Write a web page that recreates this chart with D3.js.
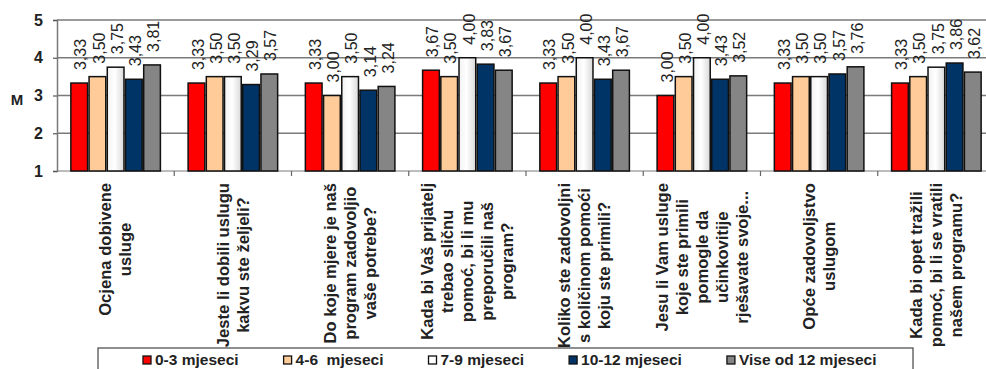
<!DOCTYPE html>
<html>
<head>
<meta charset="utf-8">
<script src="https://cdn.jsdelivr.net/npm/d3@7"></script>
<style>
  html, body { margin: 0; padding: 0; background: #fff; }
  svg { display: block; font-family: "Liberation Sans", Arial, sans-serif; }
</style>
</head>
<body>
<svg id="chart" width="986" height="369"></svg>
<script>
// ---- data ----
const categories = [
  "Ocjena dobivene|usluge",
  "Jeste li dobili uslugu|kakvu ste željeli?",
  "Do koje mjere je naš|program zadovoljio|vaše potrebe?",
  "Kada bi Vaš prijatelj|trebao sličnu|pomoć, bi li mu|preporučili naš|program?",
  "Koliko ste zadovoljni|s količinom pomoći|koju ste primili?",
  "Jesu li Vam usluge|koje ste primili|pomogle da|učinkovitije|rješavate svoje...",
  "Opće zadovoljstvo|uslugom",
  "Kada bi opet tražili|pomoć, bi li se vratili|našem programu?"
];
const seriesNames = ["0-3 mjeseci", "4-6  mjeseci", "7-9 mjeseci", "10-12 mjeseci", "Vise od 12 mjeseci"];
const s0_3   = [3.33, 3.33, 3.33, 3.67, 3.33, 3.00, 3.33, 3.33];
const s4_6   = [3.50, 3.50, 3.00, 3.50, 3.50, 3.50, 3.50, 3.50];
const s7_9   = [3.75, 3.50, 3.50, 4.00, 4.00, 4.00, 3.50, 3.75];
const s10_12 = [3.43, 3.29, 3.14, 3.83, 3.43, 3.43, 3.57, 3.86];
const s12p   = [3.81, 3.57, 3.24, 3.67, 3.67, 3.52, 3.76, 3.62];
const yTicks = [1, 2, 3, 4, 5];
const yLabel = "M";

(function () {
const seriesValues = [s0_3, s4_6, s7_9, s10_12, s12p];
const colors = ["#ff0000", "#ffcc99", "url(#gWhite)", "#003366", "#858585"];
const legendColors = ["#ff0000", "#ffcc99", "#ffffff", "#003366", "#858585"];

const svg = d3.select("#chart");
const pLeft = 57, pRight = 995, pTop = 20, pBottom = 171;

const defs = svg.append("defs");
const gw = defs.append("linearGradient").attr("id", "gWhite").attr("x1", "0").attr("x2", "1").attr("y1", "0").attr("y2", "0");
gw.append("stop").attr("offset", "0%").attr("stop-color", "#f2f2f2");
gw.append("stop").attr("offset", "45%").attr("stop-color", "#ffffff");
gw.append("stop").attr("offset", "100%").attr("stop-color", "#d9d9d9");

const x0 = d3.scaleBand().domain(d3.range(categories.length)).range([pLeft, pRight])
  .paddingInner(0.2235).paddingOuter(0.1118);
const x1 = d3.scaleBand().domain(d3.range(seriesNames.length)).range([0, x0.bandwidth()]);
const y = d3.scaleLinear().domain([1, 5]).range([pBottom, pTop]);

// gridlines
svg.append("g").selectAll("line").data(yTicks.filter(t => t > 1)).join("line")
  .attr("x1", pLeft).attr("x2", 986)
  .attr("y1", d => y(d)).attr("y2", d => y(d))
  .attr("stroke", "#7a7a7a").attr("stroke-width", 1.5);

// y axis
const yAxis = d3.axisLeft(y).tickValues(yTicks).tickSize(4).tickPadding(10).tickFormat(d3.format("d"));
const ya = svg.append("g").attr("transform", `translate(${pLeft},0)`).call(yAxis);
ya.select(".domain").attr("stroke", "#7a7a7a").attr("stroke-width", 1.5);
ya.selectAll(".tick line").attr("stroke", "#555").attr("stroke-width", 1.2);
ya.selectAll(".tick text").attr("font-size", 16).attr("font-weight", "bold").attr("fill", "#222")
  .attr("font-family", "Liberation Sans, Arial, sans-serif");

svg.append("text").attr("x", 17).attr("y", 100).attr("text-anchor", "middle").attr("dy", "0.35em")
  .attr("font-size", 15).attr("font-weight", "bold").attr("fill", "#222").text(yLabel);

// x axis
svg.append("line").attr("x1", pLeft).attr("x2", 986).attr("y1", pBottom).attr("y2", pBottom)
  .attr("stroke", "#7a7a7a").attr("stroke-width", 1.2);
svg.append("g").selectAll("line").data(d3.range(1, categories.length)).join("line")
  .attr("x1", d => x0(d) - x0.step() * x0.paddingInner() / 2)
  .attr("x2", d => x0(d) - x0.step() * x0.paddingInner() / 2)
  .attr("y1", pBottom).attr("y2", pBottom + 5)
  .attr("stroke", "#666").attr("stroke-width", 1.2);

// bars
const groups = svg.append("g").selectAll("g").data(categories).join("g")
  .attr("transform", (d, i) => `translate(${x0(i)},0)`);

groups.each(function (cat, ci) {
  const g = d3.select(this);
  const vals = seriesValues.map(s => s[ci]);
  g.selectAll("rect").data(vals).join("rect")
    .attr("x", (d, si) => x1(si) + 0.75)
    .attr("width", x1.bandwidth() - 1.5)
    .attr("y", d => y(d))
    .attr("height", d => y(1) - y(d))
    .attr("fill", (d, si) => colors[si])
    .attr("stroke", "#111").attr("stroke-width", 1.5);
  g.selectAll("text.val").data(vals).join("text").attr("class", "val")
    .attr("transform", (d, si) => `translate(${x1(si) + x1.bandwidth() / 2},${y(d) - 13}) rotate(-90)`)
    .attr("dy", "0.45em")
    .attr("text-anchor", "start")
    .attr("font-size", 16)
    .attr("fill", "#222")
    .text(d => d3.format(".2f")(d).replace(".", ","));
});

// category labels
const labelTop = 183, lineGap = 20;
categories.forEach((cat, ci) => {
  const lines = cat.split("|");
  const cx = x0(ci) + x0.bandwidth() / 2;
  const g = svg.append("g");
  const texts = lines.map((ln) => g.append("text")
    .attr("font-size", 16.6).attr("font-weight", "bold").attr("fill", "#222")
    .attr("text-anchor", "middle").attr("dy", "0.35em")
    .text(ln));
  const maxLen = d3.max(texts, t => t.node().getComputedTextLength());
  const cy = labelTop + maxLen / 2;
  texts.forEach((t, li) => {
    const lx = cx + (li - (lines.length - 1) / 2) * lineGap;
    t.attr("transform", `translate(${lx},${cy}) rotate(-90)`);
  });
});

// legend
const lg = svg.append("g");
lg.append("rect").attr("x", 98).attr("y", 348).attr("width", 815).attr("height", 40)
  .attr("fill", "#fff").attr("stroke", "#444").attr("stroke-width", 1.2);
let lx = 143;
seriesNames.forEach((name, si) => {
  lg.append("rect").attr("x", lx).attr("y", 356).attr("width", 8).attr("height", 8)
    .attr("fill", legendColors[si]).attr("stroke", "#111").attr("stroke-width", 1.3);
  const t = lg.append("text").attr("x", lx + 12).attr("y", 360).attr("dy", "0.35em")
    .attr("font-size", 15.5).attr("font-weight", "bold").attr("fill", "#222")
    .style("white-space", "pre").text(name);
  lx += 12 + t.node().getComputedTextLength() + 45;
});
})();
</script>
</body>
</html>
